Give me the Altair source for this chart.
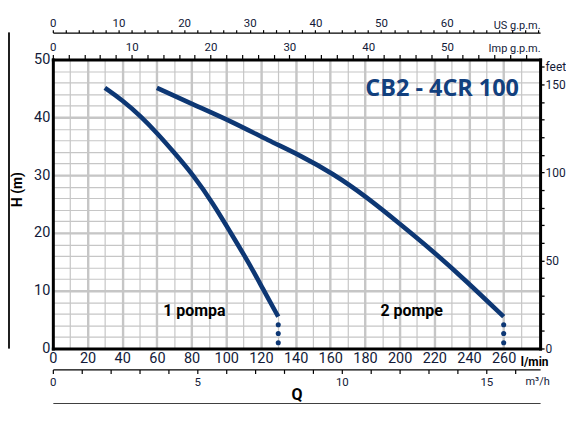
import altair as alt
import pandas as pd

# ---------------- data ----------------
pump1_q = [30, 40, 51, 60, 70, 81, 92.6, 102, 112.7, 121, 130]
pump1_h = [45.1, 43.0, 40.1, 37.3, 33.9, 30.0, 25.0, 20.3, 15.0, 10.4, 5.5]
pump2_q = [60, 81, 103, 125, 141.5, 162, 181, 200, 219, 238, 260]
pump2_h = [45.1, 42.2, 39.3, 35.9, 33.6, 30.2, 26.2, 21.6, 16.9, 11.8, 5.5]
end_q = [130, 260]
dot_h = [4.1, 2.6, 1.0]
label_text = ["1 pompa", "2 pompe"]
label_q = [81.6, 206.9]
label_h = [5.6, 5.6]
model_name = ["CB2 - 4CR 100"]
model_q = [224.5]
model_h = [43.7]

Q_MAX = 281.0
H_MAX = 50.0
lmin_ticks = list(range(0, 261, 20))
lmin_minor = list(range(10, 271, 10))
lmin_major = list(range(20, 261, 20))
h_ticks = list(range(0, 51, 10))
h_minor = list(range(2, 49, 2))
h_major = list(range(10, 41, 10))
m3h_ticks = list(range(0, 17))
imp_ticks = list(range(0, 61, 2))
us_ticks = list(range(0, 75, 2))
ft_ticks = list(range(0, 161, 10))

M3H = 16.6667
IMP = 4.54609
USG = 3.78541
FT = 0.3048

NAVY = "#0d3774"
TITLE_BLUE = "#12407e"
GRID = "#c6c6c6"
LBL = "#121a38"
FONT = "Roboto"
W, H = 489, 290

curve_df = pd.DataFrame(
    {"q": pump1_q + pump2_q,
     "h": pump1_h + pump2_h,
     "pump": ["1"] * len(pump1_q) + ["2"] * len(pump2_q)}
)
dots_df = pd.DataFrame({"q": [q for q in end_q for _ in dot_h],
                        "h": [h for _ in end_q for h in dot_h]})
labels_df = pd.DataFrame({"t": label_text, "q": label_q, "h": label_h})
model_df = pd.DataFrame({"t": model_name, "q": model_q, "h": model_h})
frame = pd.DataFrame({"q": [0, Q_MAX], "h": [0, H_MAX]})


def sc(dom):
    return alt.Scale(domain=dom, nice=False, zero=False)


QS = [0, Q_MAX]
HS = [0, H_MAX]


def ghost(x, y, calc=None):
    c = alt.Chart(frame)
    if calc:
        c = c.transform_calculate(**calc)
    return c.mark_point(size=0, opacity=0).encode(x=x, y=y)


noy = alt.Y("h:Q", scale=sc(HS), axis=None)

# minor grid
g_minor = ghost(
    alt.X("q:Q", scale=sc(QS), axis=alt.Axis(orient="bottom", values=lmin_minor, grid=True,
          gridColor=GRID, gridWidth=1.2, labels=False, ticks=False, domain=False, title=None)),
    alt.Y("h:Q", scale=sc(HS), axis=alt.Axis(orient="left", values=h_minor, grid=True,
          gridColor=GRID, gridWidth=1.2, labels=False, ticks=False, domain=False, title=None)),
)
# major grid
g_major = ghost(
    alt.X("q:Q", scale=sc(QS), axis=alt.Axis(orient="bottom", values=lmin_major, grid=True,
          gridColor=GRID, gridWidth=2.4, labels=False, ticks=False, domain=False, title=None)),
    alt.Y("h:Q", scale=sc(HS), axis=alt.Axis(orient="left", values=h_major, grid=True,
          gridColor=GRID, gridWidth=2.4, labels=False, ticks=False, domain=False, title=None)),
)
# main l/min + H axes
main_axes = ghost(
    alt.X("q:Q", scale=sc(QS), axis=alt.Axis(
        orient="bottom", values=lmin_ticks, grid=False, ticks=False, tickSize=0,
        labelFont=FONT, labelFontSize=14.5, labelColor=LBL, labelPadding=3,
        labelFlush=False, labelOverlap=False,
        domain=True, domainColor="black", domainWidth=3, domainCap="square",
        title="l/min", titleX=483, titleY=13, titleAlign="center", titleBaseline="middle",
        titleFont=FONT, titleFontSize=12, titleFontWeight="bold", titleColor="black",
        zindex=1)),
    alt.Y("h:Q", scale=sc(HS), axis=alt.Axis(
        orient="left", values=h_ticks, grid=False, ticks=False, tickSize=0,
        labelFont=FONT, labelFontSize=14.5, labelColor=LBL, labelPadding=3,
        labelFlush=False, labelOverlap=False,
        domain=True, domainColor="black", domainWidth=3, domainCap="square",
        title="H (m)", titleX=-35, titleY=130, titleAngle=270, titleAlign="center",
        titleBaseline="middle", titleFont=FONT, titleFontSize=14,
        titleFontWeight="bold", titleColor="black", zindex=1)),
)
# m3/h bottom + feet right
m3_feet = ghost(
    alt.X("m3:Q", scale=sc([0, Q_MAX / M3H]), axis=alt.Axis(
        orient="bottom", offset=21, values=m3h_ticks, grid=False,
        labelExpr="datum.value % 5 == 0 ? datum.label : ''",
        ticks=True, tickSize=4, tickColor="black", tickWidth=1.2,
        labelFont=FONT, labelFontSize=11.5, labelColor=LBL, labelPadding=3,
        labelFlush=False, labelOverlap=False,
        domain=True, domainColor="black", domainWidth=1.2,
        title="m³/h", titleX=486, titleY=12, titleAlign="center", titleBaseline="middle",
        titleFont=FONT, titleFontSize=11, titleFontWeight="normal", titleColor=LBL)),
    alt.Y("ft:Q", scale=sc([0, H_MAX / FT]), axis=alt.Axis(
        orient="right", values=ft_ticks, grid=False,
        labelExpr="datum.value == 160 ? 'feet' : (datum.value % 50 == 0 ? datum.label : '')",
        ticks=True, tickSize=4, tickColor="black", tickWidth=1.3,
        labelFont=FONT, labelFontSize=12, labelColor=LBL, labelPadding=1,
        labelFlush=False, labelOverlap=False,
        domain=True, domainColor="black", domainWidth=3, domainCap="square",
        title=None, zindex=1)),
    calc={"m3": f"datum.q / {M3H}", "ft": f"datum.h / {FT}"},
)
# Q line
q_line = ghost(
    alt.X("q:Q", scale=sc(QS), axis=alt.Axis(
        orient="bottom", offset=55, labels=False, ticks=False, grid=False,
        domain=True, domainColor="black", domainWidth=1.2,
        title="Q", titleY=-9, titleBaseline="middle", titleFont=FONT,
        titleFontSize=16, titleFontWeight="bold", titleColor="black")),
    noy,
)
# Imp g.p.m. top
imp_axis = ghost(
    alt.X("imp:Q", scale=sc([0, Q_MAX / IMP]), axis=alt.Axis(
        orient="top", values=imp_ticks, grid=False,
        labelExpr="datum.value % 10 == 0 && datum.value <= 50 ? datum.label : ''",
        ticks=True, tickSize=5, tickColor="black", tickWidth=1.2,
        labelFont=FONT, labelFontSize=11.5, labelColor=LBL, labelPadding=2,
        labelFlush=False, labelOverlap=False,
        domain=True, domainColor="black", domainWidth=3, domainCap="square",
        title="Imp g.p.m.", titleX=489, titleY=-8.5, titleAlign="right",
        titleBaseline="alphabetic", titleFont=FONT, titleFontSize=11,
        titleFontWeight="normal", titleColor=LBL, zindex=1)),
    noy,
    calc={"imp": f"datum.q / {IMP}"},
)
# US g.p.m. top
us_axis = ghost(
    alt.X("us:Q", scale=sc([0, Q_MAX / USG]), axis=alt.Axis(
        orient="top", offset=27, values=us_ticks, grid=False,
        labelExpr="datum.value % 10 == 0 && datum.value <= 60 ? datum.label : ''",
        ticks=True, tickSize=3, tickColor="black", tickWidth=1.2,
        labelFont=FONT, labelFontSize=11.5, labelColor=LBL, labelPadding=1,
        labelFlush=False, labelOverlap=False,
        domain=True, domainColor="black", domainWidth=1.2,
        title="US g.p.m.", titleX=489, titleY=-3.7, titleAlign="right",
        titleBaseline="alphabetic", titleFont=FONT, titleFontSize=11,
        titleFontWeight="normal", titleColor=LBL)),
    noy,
    calc={"us": f"datum.q / {USG}"},
)

xq = alt.X("q:Q", scale=sc(QS), axis=None)
yh = alt.Y("h:Q", scale=sc(HS), axis=None)

curves = alt.Chart(curve_df).mark_line(
    color=NAVY, strokeWidth=4.6, interpolate="basis", strokeCap="butt"
).encode(x=xq, y=yh, detail="pump:N")

dots = alt.Chart(dots_df).mark_circle(size=26, color=NAVY, opacity=1).encode(x=xq, y=yh)

labels = alt.Chart(labels_df).mark_text(
    font=FONT, fontSize=16, fontWeight="bold", color="black",
    align="center", baseline="alphabetic"
).encode(x=xq, y=yh, text="t:N")

model = alt.Chart(model_df).mark_text(
    font="Open Sans", fontSize=23.5, fontWeight="bold", color=TITLE_BLUE,
    align="center", baseline="alphabetic"
).encode(x=xq, y=yh, text="t:N")

left_line = alt.Chart(frame).mark_rule(color="black", strokeWidth=1.3).encode(
    x=alt.value(-44), y=alt.value(-27), y2=alt.value(H)
)

chart = alt.layer(
    g_minor, g_major, main_axes, m3_feet, q_line, imp_axis, us_axis,
    left_line, curves, dots, labels, model
).resolve_scale(
    x="independent", y="independent"
).properties(
    width=W, height=H,
    padding={"left": 0, "top": 9, "right": 0, "bottom": 0},
    background="white",
).configure_view(stroke=None)

chart.save("out.html", embed_options={"renderer": "svg", "actions": False})
